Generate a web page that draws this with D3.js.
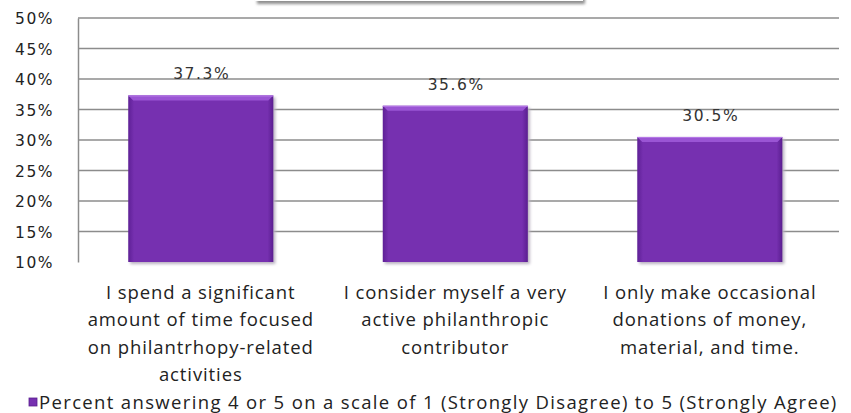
<!DOCTYPE html>
<html>
<head>
<meta charset="utf-8">
<script src="https://cdn.jsdelivr.net/npm/d3@7"></script>
<style>
  body { margin: 0; background: #fff; }
  svg { display: block; }
</style>
</head>
<body>
<script>
const width = 851;
const height = 413;

// data
const categories = ["spend", "consider", "occasional"];
const categoryLines = [
  ["I spend a significant", "amount of time focused", "on philantrhopy-related", "activities"],
  ["I consider myself a very", "active philanthropic", "contributor"],
  ["I only make occasional", "donations of money,", "material, and time."]
];
const values = [37.3, 35.6, 30.5];
const yTicks = [10, 15, 20, 25, 30, 35, 40, 45, 50];
const legendLabel = "Percent answering 4 or 5 on a scale of 1 (Strongly Disagree) to 5 (Strongly Agree)";

const plot = {left: 78, right: 839, top: 18, bottom: 262};

const svg = d3.select("body").append("svg")
  .attr("width", width)
  .attr("height", height);

const defs = svg.append("defs");
defs.append("filter").attr("id", "blur")
  .attr("x", "-10%").attr("y", "-100%").attr("width", "120%").attr("height", "300%")
  .append("feGaussianBlur").attr("stdDeviation", 1.6);

const sideGrad = defs.append("linearGradient").attr("id", "barSide")
  .attr("x1", 0).attr("x2", 1).attr("y1", 0).attr("y2", 0);
sideGrad.append("stop").attr("offset", "0%").attr("stop-color", "#5e2096");
sideGrad.append("stop").attr("offset", "4%").attr("stop-color", "#7630b0");
sideGrad.append("stop").attr("offset", "96%").attr("stop-color", "#7630b0");
sideGrad.append("stop").attr("offset", "100%").attr("stop-color", "#5a1e90");

// cut-off title box shadow at the top
svg.append("rect")
  .attr("x", 257).attr("y", -12).attr("width", 328).attr("height", 16)
  .attr("fill", "#8f8f8f")
  .attr("filter", "url(#blur)");
svg.append("rect")
  .attr("x", 255).attr("y", -14).attr("width", 328).attr("height", 15)
  .attr("fill", "#fff");

const x = d3.scaleBand()
  .domain(categories)
  .range([plot.left, plot.right])
  .paddingInner(0.43)
  .paddingOuter(0.21)
  .align(0.47);

const y = d3.scaleLinear()
  .domain([10, 50])
  .range([plot.bottom, plot.top]);

// gridlines
svg.append("g")
  .selectAll("line")
  .data(yTicks.filter(d => d > 10))
  .join("line")
  .attr("x1", plot.left).attr("x2", plot.right)
  .attr("y1", d => y(d)).attr("y2", d => y(d))
  .attr("stroke", "#8c8c8c")
  .attr("stroke-width", 1.5);

// y axis
const yAxis = svg.append("g")
  .attr("transform", `translate(${plot.left},0)`)
  .call(d3.axisLeft(y).tickValues(yTicks).tickSize(0).tickPadding(24).tickFormat(d => d + "%"));
yAxis.select(".domain").attr("stroke", "#8c8c8c").attr("stroke-width", 1.5);
yAxis.selectAll("text")
  .attr("fill", "#222")
  .attr("font-family", "DejaVu Sans")
  .attr("font-size", 15.5)
  .attr("letter-spacing", 1.5)
  .attr("dy", "0.36em");

// bars
const bars = svg.append("g")
  .selectAll("g")
  .data(values)
  .join("g");

bars.append("rect")
  .attr("x", (d, i) => x(categories[i]) + 2)
  .attr("y", d => y(d) + 2)
  .attr("width", x.bandwidth())
  .attr("height", d => y(10) - y(d))
  .attr("fill", "#b8b0c0")
  .attr("filter", "url(#blur)");

bars.append("rect")
  .attr("x", (d, i) => x(categories[i]))
  .attr("y", d => y(d))
  .attr("width", x.bandwidth())
  .attr("height", d => y(10) - y(d))
  .attr("fill", "url(#barSide)");

// bevel top
bars.append("path")
  .attr("d", (d, i) => {
    const x0 = x(categories[i]), x1 = x0 + x.bandwidth(), t = y(d);
    return `M${x0},${t}L${x1},${t}L${x1 - 5},${t + 5}L${x0 + 5},${t + 5}Z`;
  })
  .attr("fill", "#9a55d4");

bars.append("line")
  .attr("x1", (d, i) => x(categories[i]))
  .attr("x2", (d, i) => x(categories[i]) + x.bandwidth())
  .attr("y1", d => y(d) + 0.5)
  .attr("y2", d => y(d) + 0.5)
  .attr("stroke", "#b67ae6")
  .attr("stroke-width", 1);

// value labels
svg.append("g")
  .selectAll("text")
  .data(values)
  .join("text")
  .attr("x", (d, i) => x(categories[i]) + x.bandwidth() / 2 + 1)
  .attr("y", d => y(d) - 16)
  .attr("text-anchor", "middle")
  .attr("font-family", "DejaVu Sans")
  .attr("font-size", 15.5)
  .attr("letter-spacing", 1.6)
  .attr("fill", "#333")
  .text(d => d.toFixed(1) + "%");

// category labels
const cat = svg.append("g")
  .selectAll("text")
  .data(categoryLines)
  .join("text")
  .attr("text-anchor", "middle")
  .attr("font-family", "Open Sans")
  .attr("font-size", 18.5)
  .attr("letter-spacing", 0.9)
  .attr("fill", "#222");
cat.selectAll("tspan")
  .data((lines, i) => lines.map(l => ({l, i})))
  .join("tspan")
  .attr("x", d => x(categories[d.i]) + x.bandwidth() / 2)
  .attr("y", (d, j) => 299 + j * 27.3)
  .text(d => d.l);

// legend
svg.append("rect")
  .attr("x", 29).attr("y", 398).attr("width", 8).attr("height", 8)
  .attr("fill", "#7630b0").attr("stroke", "#5a1e90").attr("stroke-width", 0.8);
svg.append("text")
  .attr("x", 39).attr("y", 409)
  .attr("font-family", "Open Sans")
  .attr("font-size", 18.5)
  .attr("letter-spacing", 1.35)
  .attr("fill", "#222")
  .text(legendLabel);
</script>
</body>
</html>
